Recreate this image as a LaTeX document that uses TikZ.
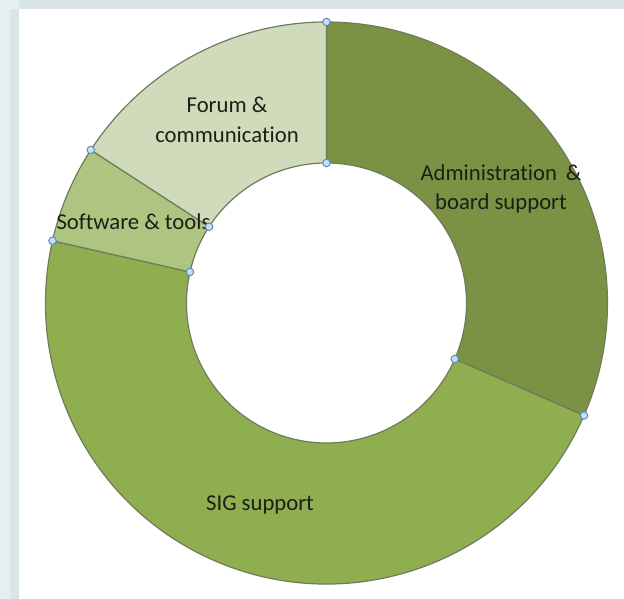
\documentclass[tikz,border=0pt]{standalone}
\usepackage{fontspec}
\setmainfont{Carlito}[Ligatures={NoCommon}]
\definecolor{bgA}{HTML}{E4EFF1}
\definecolor{bgB}{HTML}{D9E5E7}
\definecolor{bgTop}{HTML}{DCE5E6}
\definecolor{admin}{HTML}{7B9143}
\definecolor{sig}{HTML}{8FAE50}
\definecolor{soft}{HTML}{AEC581}
\definecolor{forum}{HTML}{CFDBBA}
\definecolor{edge}{HTML}{6F7C5C}
\definecolor{hfill}{HTML}{C8DEF2}
\definecolor{hdraw}{HTML}{5A8AC6}
\definecolor{txt}{HTML}{1C1F16}
\tikzset{
  seg/.style={draw=edge, line width=1.2pt, line join=round},
  lbl/.style={align=center, text=txt, inner sep=0pt, font=\fontsize{22.7}{29.5}\selectfont},
  handle/.style={circle, draw=hdraw, fill=hfill, line width=1pt, minimum size=7.5pt, inner sep=0pt}
}
\begin{document}
\begin{tikzpicture}[x=1pt,y=1pt]
\useasboundingbox (0,0) rectangle (624,599);
% background
\fill[bgA] (0,0) rectangle (624,599);
\fill[bgB] (10,0) rectangle (19,590);
\fill[bgTop] (19,590) rectangle (624,599);
\fill[white] (19,0) rectangle (624,590);
\begin{scope}[shift={(326.5,296)}]
  \def\Ro{281}\def\Ri{140}
  % Administration
  \filldraw[seg, fill=admin] (90:\Ro) arc[start angle=90, end angle=-23.6, radius=\Ro] -- (-23.6:\Ri) arc[start angle=-23.6, end angle=90, radius=\Ri] -- cycle;
  % SIG
  \filldraw[seg, fill=sig] (-23.6:\Ro) arc[start angle=-23.6, end angle=-192.8, radius=\Ro] -- (-192.8:\Ri) arc[start angle=-192.8, end angle=-23.6, radius=\Ri] -- cycle;
  % Software
  \filldraw[seg, fill=soft] (167.2:\Ro) arc[start angle=167.2, end angle=147, radius=\Ro] -- (147:\Ri) arc[start angle=147, end angle=167.2, radius=\Ri] -- cycle;
  % Forum
  \filldraw[seg, fill=forum] (147:\Ro) arc[start angle=147, end angle=90, radius=\Ro] -- (90:\Ri) arc[start angle=90, end angle=147, radius=\Ri] -- cycle;
  % labels
  \node[lbl] (lforum) at (-99.5,183) {Forum \&\\communication};
  \node[lbl] (ladmin) at (174.5,114) {Administration \,\&\\board support};
  \node[lbl] (lsoft) at (-193,81) {Software \& tools};
  \node[lbl] (lsig) at (-66.5,-202) {SIG support};
  % handles
  \node[handle] (h1) at (90:\Ro) {};
  \node[handle] (h2) at (90:\Ri) {};
  \node[handle] (h3) at (-23.6:\Ro) {};
  \node[handle] (h4) at (-23.6:\Ri) {};
  \node[handle] (h5) at (167.2:\Ro) {};
  \node[handle] (h6) at (167.2:\Ri) {};
  \node[handle] (h7) at (147:\Ro) {};
  \node[handle] (h8) at (147:\Ri) {};
\end{scope}
\end{tikzpicture}
\end{document}
